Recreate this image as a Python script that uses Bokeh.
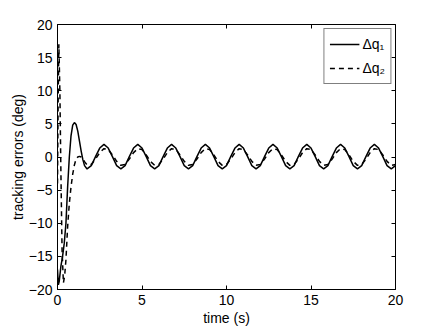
from bokeh.plotting import figure
from bokeh.models import Range1d, FixedTicker, LinearAxis, Legend, LegendItem, CustomLabelingPolicy
from bokeh.embed import file_html
from bokeh.resources import INLINE

# ---- data ----
# initial transient of the solid curve (delta q1)
t_start_q1 = [0.0, 0.05, 0.1, 0.2, 0.3, 0.4, 0.5, 0.6, 0.7, 0.8, 0.9,
              1.0, 1.1, 1.2, 1.3, 1.4, 1.5, 1.6, 1.75]
dq1_start = [-17.0, -19.3, -18.8, -16.5, -15.0, -13.0, -10.0, -4.5, 0.0, 3.2, 4.8,
             5.2, 4.9, 3.9, 2.4, 0.9, -0.4, -1.3, -1.8]

# initial transient of the dashed curve (delta q2)
t_start_q2 = [0.0, 0.04, 0.08, 0.14, 0.2, 0.27, 0.35, 0.42, 0.5, 0.6, 0.7, 0.8, 0.9,
              1.0, 1.1, 1.2, 1.3, 1.4, 1.5, 1.6, 1.75]
dq2_start = [-4.0, 9.0, 17.0, 10.0, -2.0, -14.0, -19.0, -18.0, -15.5, -10.5, -7.0, -4.5, -2.6,
             -1.2, -0.3, 0.0, 0.1, 0.0, -0.3, -0.7, -1.2]

# steady oscillation (2 s period)
t_steady = [2.0, 2.25, 2.5, 2.75, 3.0, 3.25, 3.5, 3.75,
            4.0, 4.25, 4.5, 4.75, 5.0, 5.25, 5.5, 5.75,
            6.0, 6.25, 6.5, 6.75, 7.0, 7.25, 7.5, 7.75,
            8.0, 8.25, 8.5, 8.75, 9.0, 9.25, 9.5, 9.75,
            10.0, 10.25, 10.5, 10.75, 11.0, 11.25, 11.5, 11.75,
            12.0, 12.25, 12.5, 12.75, 13.0, 13.25, 13.5, 13.75,
            14.0, 14.25, 14.5, 14.75, 15.0, 15.25, 15.5, 15.75,
            16.0, 16.25, 16.5, 16.75, 17.0, 17.25, 17.5, 17.75,
            18.0, 18.25, 18.5, 18.75, 19.0, 19.25, 19.5, 19.75,
            20.0]
dq1_steady = [-1.3, 0.05, 1.35, 1.9, 1.35, 0.05, -1.3, -1.8,
              -1.3, 0.05, 1.35, 1.9, 1.35, 0.05, -1.3, -1.8,
              -1.3, 0.05, 1.35, 1.9, 1.35, 0.05, -1.3, -1.8,
              -1.3, 0.05, 1.35, 1.9, 1.35, 0.05, -1.3, -1.8,
              -1.3, 0.05, 1.35, 1.9, 1.35, 0.05, -1.3, -1.8,
              -1.3, 0.05, 1.35, 1.9, 1.35, 0.05, -1.3, -1.8,
              -1.3, 0.05, 1.35, 1.9, 1.35, 0.05, -1.3, -1.8,
              -1.3, 0.05, 1.35, 1.9, 1.35, 0.05, -1.3, -1.8,
              -1.3, 0.05, 1.35, 1.9, 1.35, 0.05, -1.3, -1.8,
              -1.3]
dq2_steady = [-1.12, -0.32, 0.66, 1.26, 1.12, 0.32, -0.66, -1.26,
              -1.12, -0.32, 0.66, 1.26, 1.12, 0.32, -0.66, -1.26,
              -1.12, -0.32, 0.66, 1.26, 1.12, 0.32, -0.66, -1.26,
              -1.12, -0.32, 0.66, 1.26, 1.12, 0.32, -0.66, -1.26,
              -1.12, -0.32, 0.66, 1.26, 1.12, 0.32, -0.66, -1.26,
              -1.12, -0.32, 0.66, 1.26, 1.12, 0.32, -0.66, -1.26,
              -1.12, -0.32, 0.66, 1.26, 1.12, 0.32, -0.66, -1.26,
              -1.12, -0.32, 0.66, 1.26, 1.12, 0.32, -0.66, -1.26,
              -1.12, -0.32, 0.66, 1.26, 1.12, 0.32, -0.66, -1.26,
              -1.12]

x_ticks = [0, 5, 10, 15, 20]
x_tick_labels = ["0", "5", "10", "15", "20"]
y_ticks = [-20, -15, -10, -5, 0, 5, 10, 15, 20]
y_tick_labels = ["\u221220", "\u221215", "\u221210", "\u22125", "0", "5", "10", "15", "20"]
x_label = "time (s)"
y_label = "tracking errors (deg)"
legend_labels = ["\u0394q\u2081", "\u0394q\u2082"]

t_q1 = t_start_q1 + t_steady
dq1 = dq1_start + dq1_steady
t_q2 = t_start_q2 + t_steady
dq2 = dq2_start + dq2_steady

FONT = "Liberation Sans"
FS = "14px"

p = figure(width=436, height=328, output_backend="svg", toolbar_location=None,
           x_range=Range1d(0, 20), y_range=Range1d(-20, 20),
           min_border_left=57, min_border_right=41, min_border_top=24, min_border_bottom=36)
p.grid.visible = False
p.outline_line_color = "black"
p.outline_line_width = 1
p.background_fill_color = "white"
p.border_fill_color = "white"

r1 = p.line(t_q1, dq1, line_color="black", line_width=1.5)
r2 = p.line(t_q2, dq2, line_color="black", line_width=1.5, line_dash="5 4")


def style_axis(ax, ticks, labels, show_labels=True):
    ax.ticker = FixedTicker(ticks=ticks)
    ax.minor_tick_line_color = None
    ax.major_tick_in = 4
    ax.major_tick_out = 0
    ax.major_tick_line_color = "black"
    ax.axis_line_color = "black"
    if show_labels:
        ax.major_label_overrides = {k: v for k, v in zip(ticks, labels)}
        ax.major_label_text_font = FONT
        ax.major_label_text_font_size = FS
        ax.major_label_text_color = "black"
        ax.axis_label_text_font = FONT
        ax.axis_label_text_font_size = FS
        ax.axis_label_text_font_style = "normal"
        ax.axis_label_text_color = "black"
    else:
        ax.major_label_policy = CustomLabelingPolicy(code="return []")
        ax.major_label_standoff = 0
        ax.axis_line_color = None


xa = p.xaxis[0]
style_axis(xa, x_ticks, x_tick_labels)
xa.axis_label = x_label
xa.major_label_standoff = 5
xa.axis_label_standoff = 2

ya = p.yaxis[0]
style_axis(ya, y_ticks, y_tick_labels)
ya.axis_label = y_label
ya.major_label_standoff = 5
ya.axis_label_standoff = 0

top_ax = LinearAxis()
style_axis(top_ax, x_ticks, x_tick_labels, show_labels=False)
p.add_layout(top_ax, "above")
right_ax = LinearAxis()
style_axis(right_ax, y_ticks, y_tick_labels, show_labels=False)
p.add_layout(right_ax, "right")

legend = Legend(items=[LegendItem(label=legend_labels[0], renderers=[r1]),
                       LegendItem(label=legend_labels[1], renderers=[r2])],
                location="top_right", margin=4, padding=5, spacing=4,
                label_height=20, glyph_height=20, glyph_width=30, label_standoff=3,
                border_line_color="black", border_line_width=1,
                background_fill_color="white", background_fill_alpha=1.0,
                label_text_font=FONT, label_text_font_size=FS, label_text_color="black")
p.add_layout(legend)

open("out.html", "w").write(file_html(p, INLINE))
